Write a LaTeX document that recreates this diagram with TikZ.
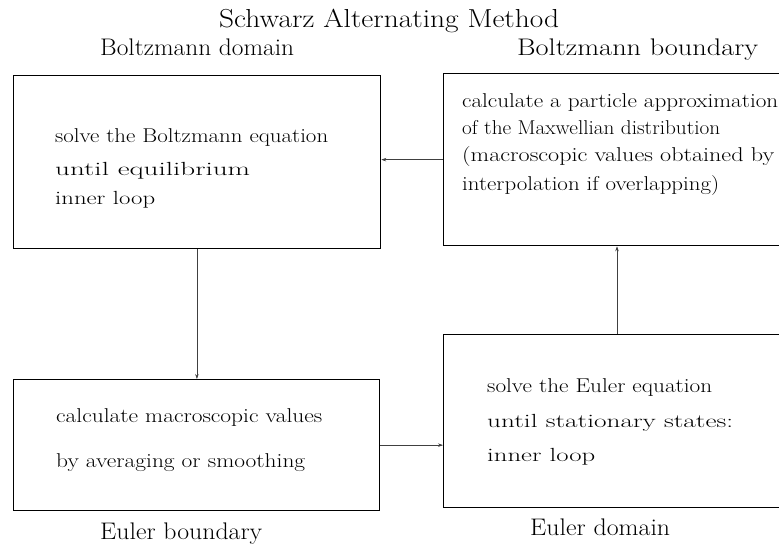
\documentclass[tikz,border=0pt]{standalone}
\usepackage{graphicx}
\usetikzlibrary{arrows.meta,calc}
\newcommand{\fitw}[3]{\resizebox{#1}{\height}{\fontsize{#2}{#2}\selectfont #3}}
\begin{document}
\begin{tikzpicture}[x=1pt,y=-1pt,
  box/.style={draw=black,line width=1.3pt,inner sep=0pt,anchor=north west},
  txt/.style={inner sep=0pt,anchor=base west},
  lbl/.style={inner sep=0pt,anchor=base west},
  arr/.style={draw=black!75,line width=0.6pt,-{Stealth[length=5pt,width=3.5pt]}}]
\useasboundingbox (0,0) rectangle (779,550);
% title and labels
\node[lbl] (title) at (219,27) {\fitw{340pt}{26}{Schwarz Alternating Method}};
\node[lbl] (lbd) at (100,55) {\fitw{194pt}{24}{Boltzmann domain}};
\node[lbl] (lbb) at (517,55) {\fitw{241pt}{24}{Boltzmann boundary}};
\node[lbl] (leb) at (100,539) {\fitw{162pt}{24}{Euler boundary}};
\node[lbl] (led) at (530,535) {\fitw{140pt}{24}{Euler domain}};
% boxes
\node[box,minimum width=367.5pt,minimum height=173pt] (b1) at (12.5,75) {};
\node[box,minimum width=338pt,minimum height=172pt] (b2) at (443,73) {};
\node[box,minimum width=366.5pt,minimum height=131pt] (b3) at (12.5,379) {};
\node[box,minimum width=338pt,minimum height=173pt] (b4) at (443,334) {};
% box 1 text
\node[txt] (t11) at (55,142) {\fitw{273pt}{20}{solve the Boltzmann equation}};
\node[txt] (t12) at (55,175) {\fitw{195pt}{19}{until equilibrium}};
\node[txt] (t13) at (55,204) {\fitw{100pt}{19}{inner loop}};
% box 2 text
\node[txt] (t21) at (462,107) {\fitw{316pt}{20}{calculate a particle approximation}};
\node[txt] (t22) at (462,134) {\fitw{258pt}{20}{of the Maxwellian distribution}};
\node[txt] (t23) at (462,161) {\fitw{312pt}{20}{(macroscopic values obtained by}};
\node[txt] (t24) at (462,190) {\fitw{257pt}{20}{interpolation if overlapping)}};
% box 3 text
\node[txt] (t31) at (56,422) {\fitw{266pt}{20}{calculate macroscopic values}};
\node[txt] (t32) at (56,467) {\fitw{249pt}{20}{by averaging or smoothing}};
% box 4 text
\node[txt] (t41) at (487,392) {\fitw{225pt}{20}{solve the Euler equation}};
\node[txt] (t42) at (487,427) {\fitw{246pt}{19}{until stationary states:}};
\node[txt] (t43) at (487,461) {\fitw{108pt}{19}{inner loop}};
% connectors
\draw[arr] (b2.west) -- (b2.west -| b1.east);
\draw[arr] (b1.south) -- (b1.south |- b3.north);
\draw[arr] (b3.east) -- (b3.east -| b4.west);
\coordinate (c4) at ([xshift=174pt]b4.north west);
\draw[arr] (c4) -- (c4 |- b2.south);
\end{tikzpicture}
\end{document}
